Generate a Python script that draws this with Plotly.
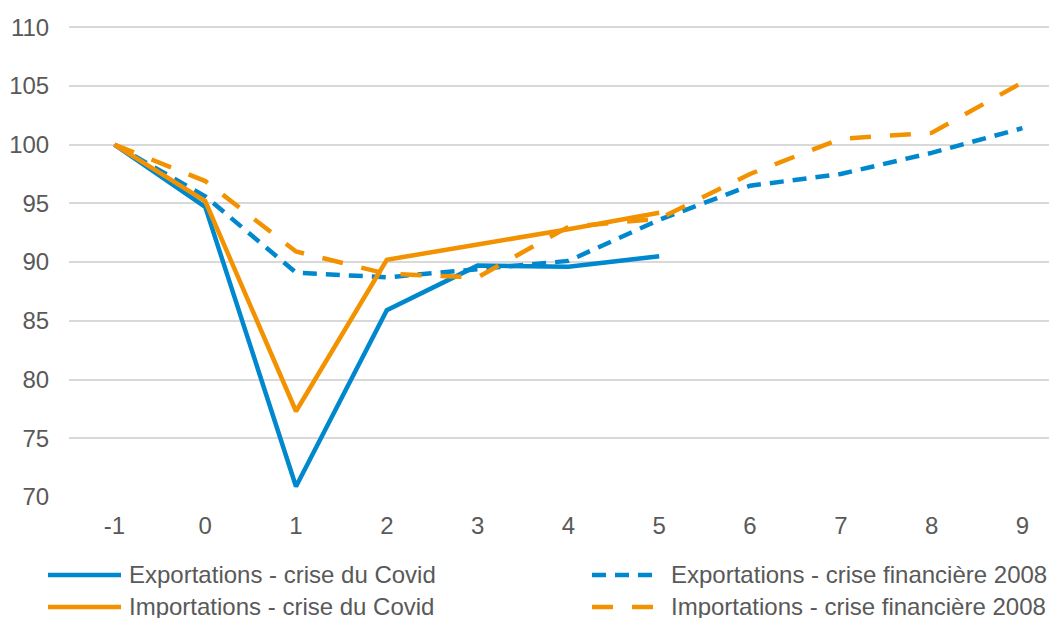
import plotly.graph_objects as go

# horizon in quarters relative to the crisis
quarters = ["-1", "0", "1", "2", "3", "4", "5", "6", "7", "8", "9"]

exports_covid = [100, 94.7, 70.9, 85.9, 89.7, 89.6, 90.5, None, None, None, None]
imports_covid = [100, 95.2, 77.3, 90.2, 91.5, 92.8, 94.2, None, None, None, None]
exports_2008 = [100, 95.6, 89.1, 88.7, 89.4, 90.1, 93.6, 96.5, 97.5, 99.3, 101.4]
imports_2008 = [100, 96.9, 90.9, 89.0, 88.7, 93.0, 93.7, 97.5, 100.5, 101.0, 105.3]

BLUE = "#0088ce"
ORANGE = "#f39200"
GREY = "#595959"
FONT = "Liberation Sans, Arial, sans-serif"

W, H = 1057, 618
OFFSET = 8  # the page body margin shifts the figure by 8px right and down
Y_MIN, Y_MAX = 70, 110.1  # a touch above 110 so the top gridline is drawn
# wanted on-screen positions of the plot area
SCR_LEFT, SCR_BOTTOM = 69, 497
SCR_TOP = 27 - (Y_MAX - 110) * (470 / 40)
M_L = SCR_LEFT - OFFSET
M_T = SCR_TOP - OFFSET
M_B = H - (SCR_BOTTOM - OFFSET)
M_R = 0
PLOT_W = W - M_L - M_R
PLOT_H = H - M_T - M_B
STEP = 90.8  # px between categories


def px_to_paper(sx, sy):
    # screen pixel -> paper coordinates
    fx, fy = sx - OFFSET, sy - OFFSET
    return (fx - M_L) / PLOT_W, (H - M_B - fy) / PLOT_H


series = [
    # name, values, colour, dash, legend column, legend row
    ("Exportations - crise du Covid", exports_covid, BLUE, "solid", 0, 0),
    ("Exportations - crise financière 2008", exports_2008, BLUE, "14px,9px", 1, 0),
    ("Importations - crise du Covid", imports_covid, ORANGE, "solid", 0, 1),
    ("Importations - crise financière 2008", imports_2008, ORANGE, "21px,19px", 1, 1),
]

fig = go.Figure()
for name, values, colour, dash, _, _ in series:
    fig.add_trace(go.Scatter(x=quarters, y=values, mode="lines", name=name,
                             line=dict(color=colour, width=4.5, dash=dash)))

# legend drawn by hand: two columns, two rows under the x axis (like the Excel original)
legend_cols = [(48, 121, 127), (592, 657, 669)]  # line start, line end, text start (screen px)
legend_rows = [575, 607]
for name, _, colour, dash, col, row in series:
    x0, x1, xt = legend_cols[col]
    y = legend_rows[row]
    px0, py = px_to_paper(x0, y)
    px1, _ = px_to_paper(x1, y)
    pxt, _ = px_to_paper(xt, y)
    fig.add_shape(type="line", xref="paper", yref="paper",
                  x0=px0, x1=px1, y0=py, y1=py,
                  line=dict(color=colour, width=4.5, dash=dash))
    fig.add_annotation(text=name, xref="paper", yref="paper",
                       x=pxt, y=py, xanchor="left", yanchor="middle",
                       showarrow=False, font=dict(size=24, color=GREY))

fig.update_layout(
    width=W,
    height=H,
    margin=dict(l=M_L, r=M_R, t=M_T, b=M_B),
    paper_bgcolor="white",
    plot_bgcolor="white",
    font=dict(family=FONT, color=GREY, size=24),
    showlegend=False,
)

fig.update_xaxes(
    type="category",
    range=[-0.5, -0.5 + PLOT_W / STEP],
    showgrid=False,
    showline=False,
    zeroline=False,
    ticks="outside",
    ticklen=7,
    tickcolor="rgba(0,0,0,0)",
    tickfont=dict(size=24, color=GREY),
)
fig.update_yaxes(
    range=[Y_MIN, Y_MAX],
    tick0=70,
    dtick=5,
    showgrid=True,
    gridcolor="#d9d9d9",
    gridwidth=1.5,
    zeroline=False,
    showline=False,
    ticks="outside",
    ticklen=14,
    tickcolor="rgba(0,0,0,0)",
    tickfont=dict(size=24, color=GREY),
)

fig.write_html("out.html")
